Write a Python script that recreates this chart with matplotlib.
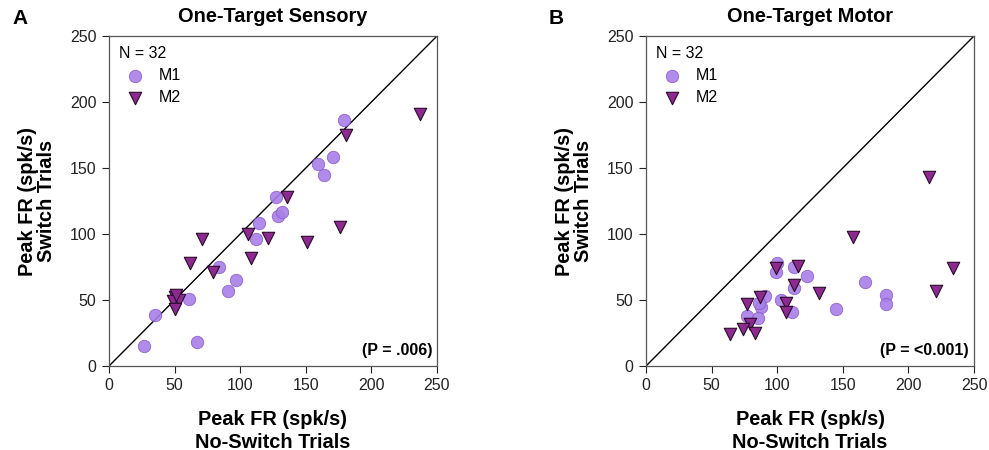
import matplotlib

matplotlib.use("Agg")

import matplotlib.pyplot as plt  # noqa: E402

# One-Target Sensory: (no-switch, switch) peak firing rates
sens_m1_x = [179, 159, 171, 164, 127, 129, 132, 114, 112, 84, 97, 91, 61, 35, 27, 67]
sens_m1_y = [186, 153, 158, 145, 128, 114, 117, 108, 96, 75, 65, 57, 51, 39, 15, 18]
sens_m2_x = [237, 181, 136, 106, 121, 151, 176, 71, 108, 62, 79, 50, 49, 53, 50, 51]
sens_m2_y = [191, 175, 128, 100, 97, 94, 105, 96, 82, 78, 71, 52, 49, 50, 43, 54]

# One-Target Motor
mot_m1_x = [100, 99, 113, 123, 167, 183, 183, 113, 91, 88, 86, 103, 111, 145, 77, 85]
mot_m1_y = [78, 71, 75, 68, 64, 54, 47, 59, 53, 45, 48, 50, 41, 43, 38, 36]
mot_m2_x = [216, 158, 234, 221, 116, 99, 113, 132, 87, 77, 107, 107, 79, 74, 83, 64]
mot_m2_y = [143, 98, 74, 57, 76, 74, 61, 55, 52, 47, 48, 41, 32, 28, 25, 24]

panels = [
    ("A", "One-Target Sensory", sens_m1_x, sens_m1_y, sens_m2_x, sens_m2_y, "(P = .006)"),
    ("B", "One-Target Motor", mot_m1_x, mot_m1_y, mot_m2_x, mot_m2_y, "(P = <0.001)"),
]
ticks = [0, 50, 100, 150, 200, 250]

plt.rcParams["font.family"] = ["Liberation Sans", "DejaVu Sans"]

fig = plt.figure(figsize=(9.89, 4.5), dpi=100)
lefts = [109 / 989, 646 / 989]

for left, (letter, title, m1x, m1y, m2x, m2y, ptext) in zip(lefts, panels):
    ax = fig.add_axes([left, 84 / 450, 328 / 989, 330 / 450])
    ax.plot([0, 250], [0, 250], color="black", linewidth=1.0, zorder=1)
    ax.scatter(m1x, m1y, s=80, marker="o", color="#a97ee8", edgecolor="#8a5cc8",
               linewidth=0.6, alpha=0.9, label="M1", zorder=3)
    ax.scatter(m2x, m2y, s=80, marker="v", color="#8c2a90", edgecolor="#2a0a2a",
               linewidth=0.8, label="M2", zorder=4)
    ax.set_xlim(0, 250)
    ax.set_ylim(0, 250)
    ax.set_xticks(ticks)
    ax.set_yticks(ticks)
    ax.tick_params(direction="out", length=5, width=0.8, labelsize=11.5,
                   colors="#222222", pad=4)
    for spine in ax.spines.values():
        spine.set_color("#555555")
        spine.set_linewidth(0.9)
    ax.set_title(title, fontsize=14.4, fontweight="bold", pad=10)
    ax.set_xlabel("Peak FR (spk/s)\nNo-Switch Trials", fontsize=14.4,
                  fontweight="bold", labelpad=12, linespacing=1.25)
    ax.set_ylabel("Peak FR (spk/s)\nSwitch Trials", fontsize=14.4,
                  fontweight="bold", labelpad=10, linespacing=1.0)
    leg = ax.legend(title="N = 32", loc="upper left", frameon=False, fontsize=11.5,
                    title_fontsize=11.5, handletextpad=0.5, borderaxespad=0.3,
                    labelspacing=0.45, borderpad=0.3)
    leg._legend_box.align = "left"
    ax.text(0.985, 0.025, ptext, transform=ax.transAxes, ha="right", va="bottom",
            fontsize=11.5, fontweight="bold")
    fig.text(left - 97 / 989, 1 - 18 / 450, letter, fontsize=15, fontweight="bold",
             va="center", ha="left")

fig.savefig("out.png", dpi=100)
